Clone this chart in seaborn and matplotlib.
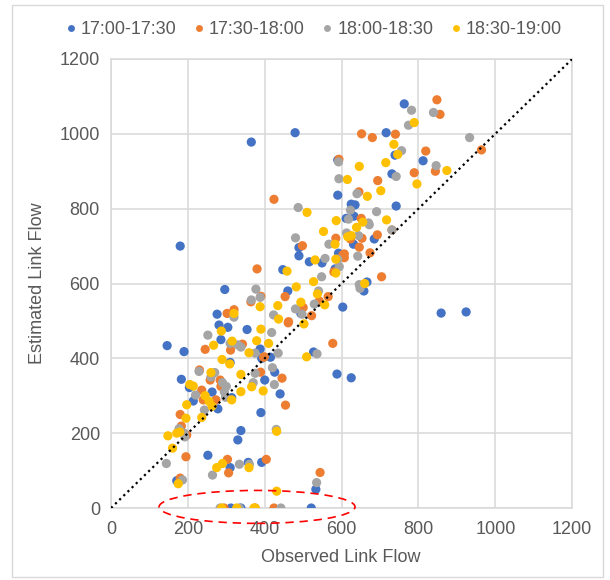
import pandas as pd
import matplotlib.pyplot as plt
import seaborn as sb
from matplotlib.patches import Ellipse, Rectangle

# observed / estimated link flow per time slice
obs_1700 = [146, 180, 190, 183, 204, 214, 263, 278, 296, 276, 281, 304, 354, 286, 310, 314, 365, 479,
            447, 489, 489, 516, 549, 592, 590, 590, 612, 388, 415, 426, 400, 440, 390, 338, 330, 252,
            310, 357, 392, 171, 533, 312, 338, 521, 603, 588, 625, 859, 924, 666, 658, 763, 716, 739,
            812, 731, 625, 635, 742, 632, 631, 685, 460, 494, 527, 392, 583]
est_1700 = [434, 700, 418, 344, 322, 286, 310, 265, 584, 518, 489, 483, 477, 450, 389, 295, 978, 1003,
            637, 696, 674, 658, 655, 681, 836, 930, 774, 425, 403, 363, 342, 305, 255, 207, 182, 141,
            108, 122, 122, 73, 50, 0, 0, 0, 537, 358, 348, 521, 524, 604, 580, 1080, 1003, 943,
            928, 893, 812, 810, 807, 780, 705, 719, 580, 520, 417, 400, 639]

obs_1730 = [593, 424, 585, 498, 607, 607, 380, 848, 856, 652, 680, 740, 964, 819, 844, 789, 694, 645,
            651, 693, 731, 653, 623, 646, 603, 674, 704, 580, 390, 302, 320, 245, 230, 258, 284, 286,
            236, 240, 273, 180, 183, 197, 389, 445, 454, 397, 461, 342, 311, 195, 303, 306, 404, 544,
            180, 294, 375, 424, 453, 364, 565, 542, 522, 500, 462, 577, 399]
est_1730 = [932, 825, 721, 701, 679, 669, 639, 1091, 1052, 1000, 990, 999, 957, 954, 900, 896, 875, 845,
            774, 730, 743, 721, 719, 697, 676, 682, 618, 631, 566, 520, 530, 424, 369, 342, 342, 325,
            315, 289, 289, 250, 219, 195, 363, 347, 275, 403, 495, 438, 422, 137, 130, 94, 130, 95,
            80, 0, 0, 0, 565, 551, 565, 553, 514, 536, 498, 440, 404]

obs_1800 = [592, 593, 487, 618, 480, 567, 557, 548, 594, 782, 839, 774, 933, 756, 846, 742, 640, 623,
            691, 670, 613, 644, 672, 731, 642, 590, 646, 648, 377, 365, 388, 320, 252, 310, 330, 338,
            375, 435, 536, 418, 229, 260, 270, 290, 300, 295, 370, 375, 425, 420, 540, 529, 480, 423,
            497, 430, 177, 190, 192, 144, 264, 334, 360, 535, 186, 284, 334, 442, 220, 243, 298]
est_1800 = [925, 880, 803, 772, 722, 705, 667, 618, 645, 1063, 1057, 1023, 990, 955, 915, 886, 840, 796,
            792, 762, 735, 728, 757, 743, 673, 665, 597, 587, 585, 556, 563, 510, 462, 440, 436, 430,
            414, 414, 412, 469, 365, 350, 362, 335, 325, 310, 335, 360, 330, 375, 580, 545, 532, 516,
            518, 210, 212, 200, 190, 119, 88, 117, 117, 68, 75, 0, 0, 0, 302, 262, 296]

obs_1830 = [615, 510, 586, 553, 616, 583, 531, 585, 585, 458, 527, 789, 736, 746, 646, 715, 874, 796,
            702, 667, 717, 655, 639, 625, 660, 482, 537, 388, 434, 494, 556, 436, 502, 320, 287, 267,
            315, 379, 390, 410, 359, 289, 309, 338, 338, 396, 509, 205, 197, 195, 179, 148, 160, 431,
            290, 275, 359, 175, 431, 288, 327, 372, 375, 260, 214, 245, 255, 263, 314, 366, 236, 171]
est_1830 = [878, 790, 768, 739, 725, 705, 663, 665, 628, 633, 605, 1030, 972, 945, 913, 923, 902, 866,
            848, 833, 770, 764, 750, 728, 600, 591, 572, 538, 541, 550, 543, 505, 492, 520, 473, 435,
            446, 447, 478, 440, 415, 397, 385, 357, 311, 313, 404, 330, 276, 240, 203, 193, 160, 205,
            119, 108, 108, 65, 45, 0, 0, 0, 0, 362, 326, 300, 285, 272, 289, 324, 242, 200]

periods = ['17:00-17:30', '17:30-18:00', '18:00-18:30', '18:30-19:00']
colors = ['#4472C4', '#ED7D31', '#A5A5A5', '#FFC000']

frames = []
for p, xs, ys in zip(periods, [obs_1700, obs_1730, obs_1800, obs_1830],
                     [est_1700, est_1730, est_1800, est_1830]):
    frames.append(pd.DataFrame({'observed': xs, 'estimated': ys, 'period': p}))
data = pd.concat(frames, ignore_index=True)

sb.set_style('white')
plt.rcParams['font.family'] = ['Liberation Sans', 'DejaVu Sans']
txt = '#595959'
grid = '#D9D9D9'

fig = plt.figure(figsize=(6.1, 5.8), dpi=100)
ax = fig.add_axes([0.182, 0.1241, 0.756, 0.7742])

sb.scatterplot(data=data, x='observed', y='estimated', hue='period', hue_order=periods,
               palette=dict(zip(periods, colors)), s=44, linewidth=0, alpha=1, ax=ax, zorder=3)

# 1:1 line
ax.plot([0, 1200], [0, 1200], color='black', linestyle=(0, (1, 1.6)), linewidth=1.6, zorder=4)

# zero-estimate cluster
ax.add_patch(Ellipse((380, 3), 510, 88, fill=False, edgecolor='#FF0000', linestyle=(0, (5, 3.5)),
                     linewidth=1.2, clip_on=False, zorder=5))

ax.set_xlim(0, 1200)
ax.set_ylim(0, 1200)
ax.set_xticks(range(0, 1201, 200))
ax.set_yticks(range(0, 1201, 200))
ax.grid(True, color=grid, linewidth=1.1)
ax.set_axisbelow(True)
for sp in ax.spines.values():
    sp.set_color(grid)
    sp.set_linewidth(1.1)
ax.tick_params(length=0, labelsize=13, colors=txt)
ax.tick_params(axis='y', pad=8)
ax.tick_params(axis='x', pad=9)
ax.set_xlabel('')
ax.set_ylabel('')

fig.text(0.499 * 0.756 + 0.182, 1 - 557 / 580, 'Observed Link Flow', ha='center', va='center',
         fontsize=13, color=txt)
fig.text(38 / 610, 1 - 283 / 580, 'Estimated Link Flow', ha='center', va='center', rotation=90,
         fontsize=13, color=txt)

sb.move_legend(ax, 'center', bbox_to_anchor=(0.515, 1 - 30 / 580), bbox_transform=fig.transFigure,
               ncol=4, title=None, frameon=False, fontsize=13, handlelength=0.5, handletextpad=0.3,
               columnspacing=1.0, markerscale=0.75)
for t in ax.get_legend().get_texts():
    t.set_color(txt)

fig.patches.append(Rectangle((12 / 610, 3 / 580), 591 / 610, 572 / 580, transform=fig.transFigure,
                             fill=False, edgecolor=grid, linewidth=1.0))

fig.savefig('out.png', dpi=100)
